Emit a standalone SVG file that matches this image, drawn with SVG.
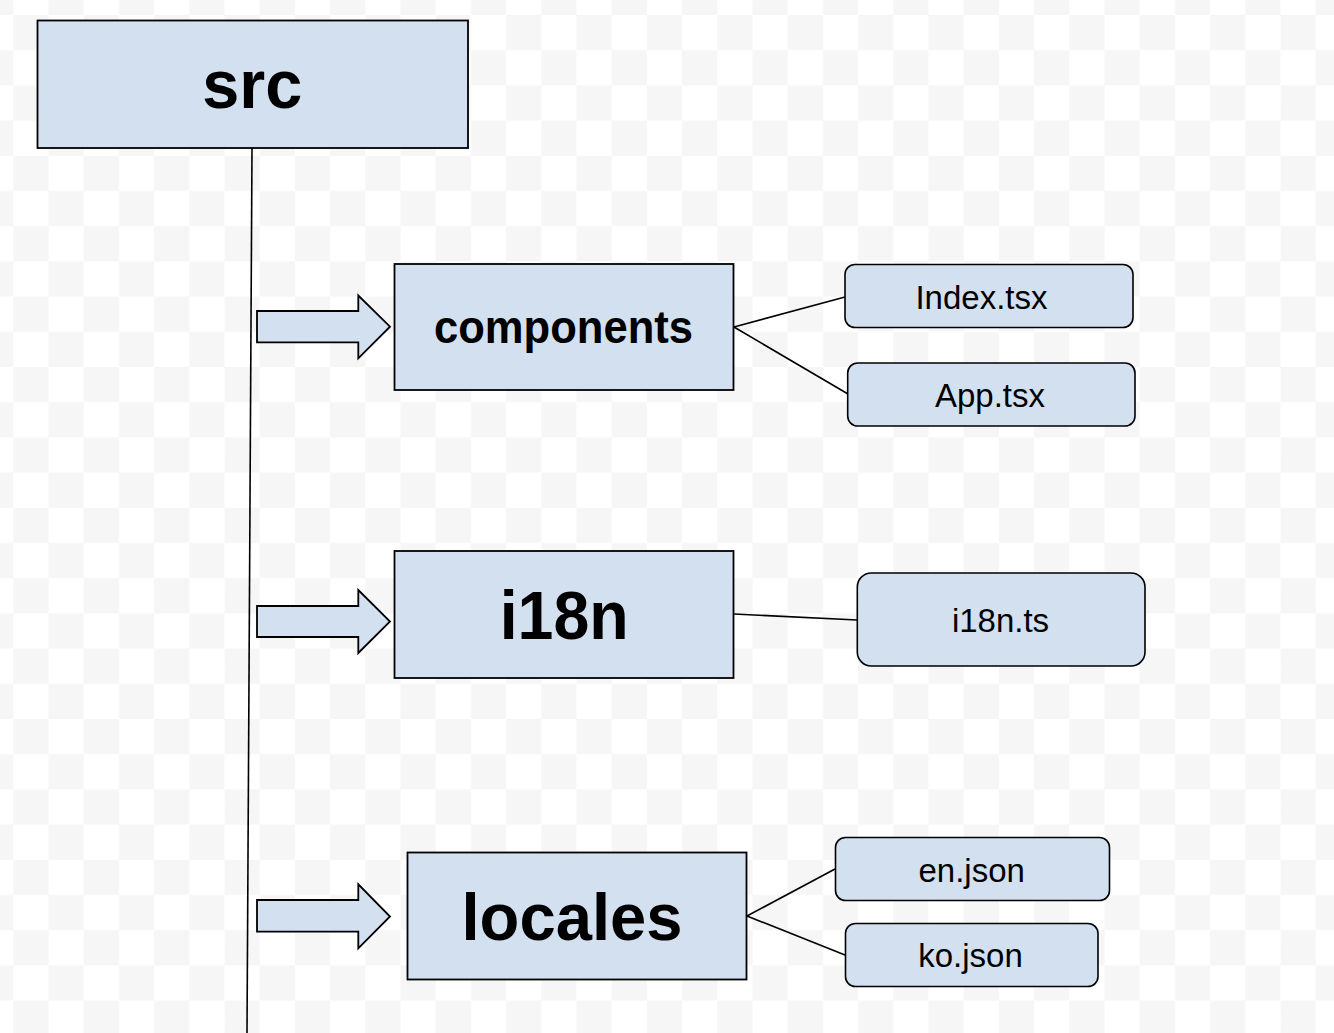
<svg xmlns="http://www.w3.org/2000/svg" width="1334" height="1033" viewBox="0 0 1334 1033">
  <defs>
    <pattern id="checker" x="13.3" y="15" width="70.4" height="70.4" patternUnits="userSpaceOnUse">
      <rect x="0" y="0" width="70.4" height="70.4" fill="#ffffff"/>
      <rect x="0" y="0" width="35.2" height="35.2" fill="#f6f6f6"/>
      <rect x="35.2" y="35.2" width="35.2" height="35.2" fill="#f6f6f6"/>
    </pattern>
    <style>
      .box { fill: #d3e0f0; stroke: #000; stroke-width: 1.8; }
      .file { fill: #d3e0f0; stroke: #000; stroke-width: 1.6; }
      .big { font-family: "Liberation Sans", Arial, sans-serif; font-weight: bold; fill: #000; text-anchor: middle; }
      .small { font-family: "Liberation Sans", Arial, sans-serif; font-size: 33px; fill: #000; text-anchor: middle; }
      .conn { stroke: #000; stroke-width: 1.6; fill: none; }
      .arrow { fill: #d3e0f0; stroke: #000; stroke-width: 1.8; stroke-linejoin: miter; }
    </style>
  </defs>
  <rect x="0" y="0" width="1334" height="1033" fill="url(#checker)"/>

  <g id="connectors">
    <line class="conn" x1="252" y1="148" x2="247" y2="1033"/>
    <line class="conn" x1="734" y1="327" x2="845" y2="297"/>
    <line class="conn" x1="734" y1="327" x2="848" y2="394"/>
    <line class="conn" x1="734" y1="614" x2="857" y2="620"/>
    <line class="conn" x1="747" y1="916" x2="835" y2="869"/>
    <line class="conn" x1="747" y1="916" x2="845" y2="955"/>
    <polygon class="arrow" points="257,311 358.3,311 358.3,295.5 390,326.7 358.3,358.3 358.3,342.3 257,342.3"/>
    <polygon class="arrow" points="257,606 358.3,606 358.3,590 390,621.5 358.3,653 358.3,637 257,637"/>
    <polygon class="arrow" points="257,900 358.3,900 358.3,884.3 390,916.5 358.3,948.3 358.3,931.7 257,931.7"/>
  </g>

  <g id="node-src">
    <rect class="box" x="37.5" y="20.5" width="430.5" height="127.5"/>
    <text class="big" x="252.3" y="108.3" font-size="68" textLength="100" lengthAdjust="spacingAndGlyphs">src</text>
  </g>

  <g id="node-components">
    <rect class="box" x="394.5" y="264" width="339" height="126"/>
    <text class="big" x="563.5" y="342.7" font-size="46" textLength="259" lengthAdjust="spacingAndGlyphs">components</text>
  </g>

  <g id="node-i18n">
    <rect class="box" x="394.5" y="551" width="339" height="127"/>
    <text class="big" x="564.2" y="639.3" font-size="69" textLength="129" lengthAdjust="spacingAndGlyphs">i18n</text>
  </g>

  <g id="node-locales">
    <rect class="box" x="407.5" y="852.5" width="339" height="127"/>
    <text class="big" x="572" y="940" font-size="67" textLength="221" lengthAdjust="spacingAndGlyphs">locales</text>
  </g>

  <g id="node-index">
    <rect class="file" x="845" y="264.5" width="288" height="63" rx="10"/>
    <text class="small" x="981.5" y="309.3" font-size="34">Index.tsx</text>
  </g>

  <g id="node-app">
    <rect class="file" x="847.7" y="363" width="287.3" height="63" rx="10"/>
    <text class="small" x="990" y="406.7" font-size="34">App.tsx</text>
  </g>

  <g id="node-i18n-ts">
    <rect class="file" x="857.3" y="573" width="287.7" height="93" rx="14"/>
    <text class="small" x="1000.5" y="631.7">i18n.ts</text>
  </g>

  <g id="node-en">
    <rect class="file" x="835.5" y="837.5" width="274" height="63" rx="10"/>
    <text class="small" x="971.7" y="881.7">en.json</text>
  </g>

  <g id="node-ko">
    <rect class="file" x="845.5" y="923.5" width="252.5" height="63" rx="10"/>
    <text class="small" x="970.5" y="967.3">ko.json</text>
  </g>
</svg>
